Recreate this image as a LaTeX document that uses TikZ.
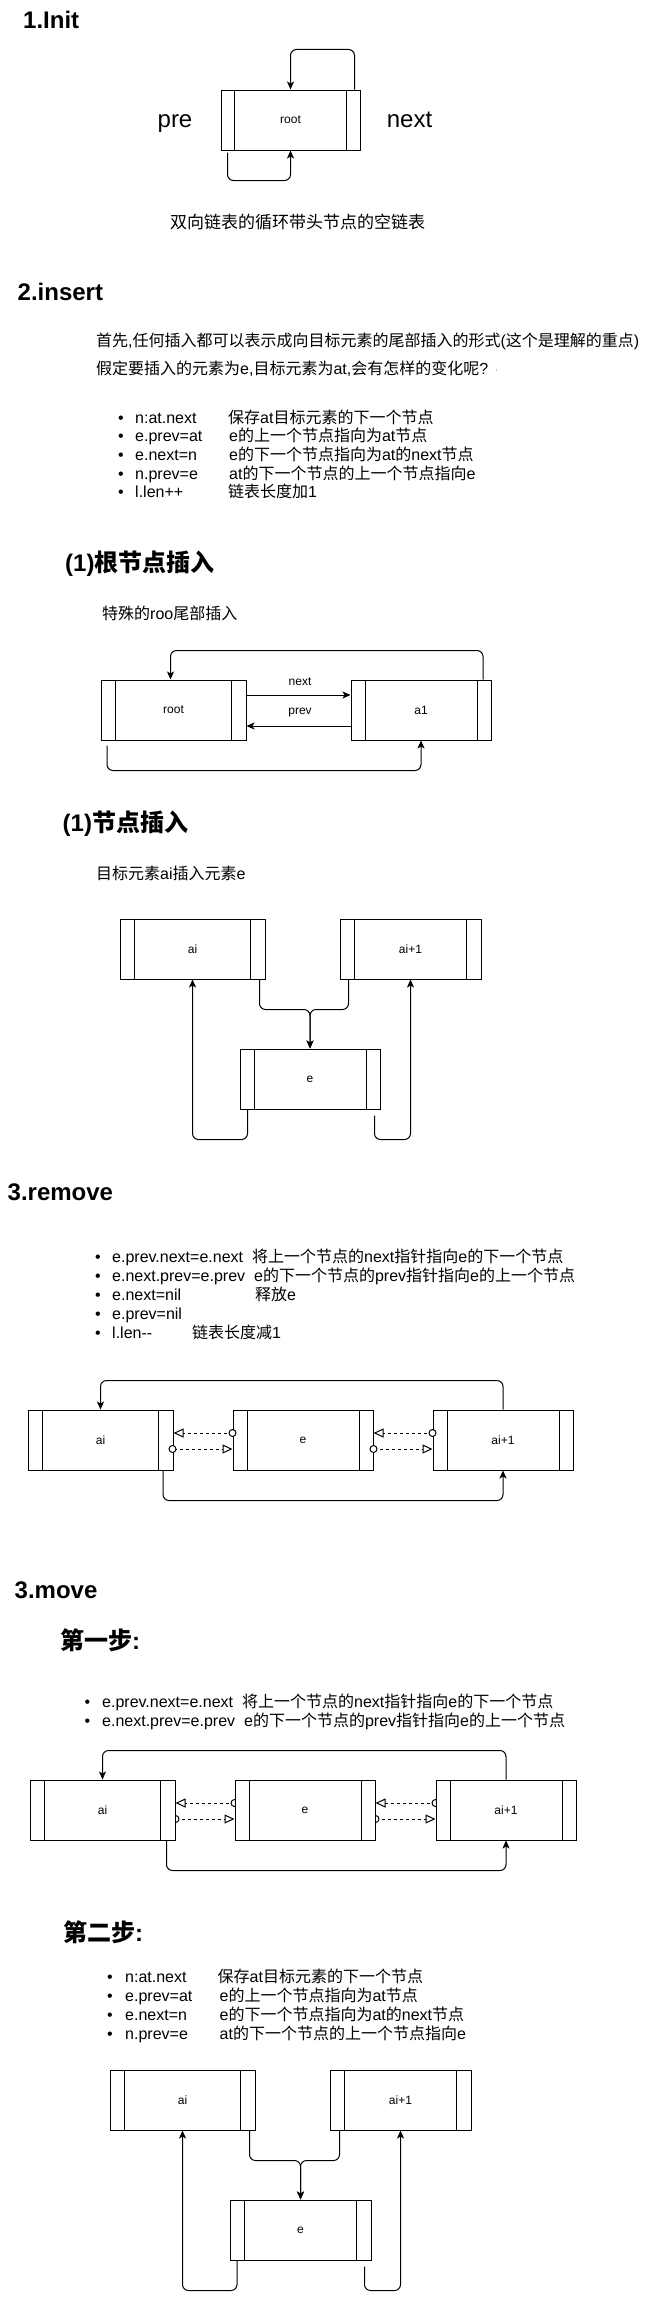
\documentclass[tikz,border=0pt]{standalone}
\usepackage{fontspec}
\setmainfont{Liberation Sans}
\newfontfamily\cjk{Noto Sans CJK SC}
\usetikzlibrary{arrows.meta,calc}
\newcommand\zh[1]{{\cjk #1}}
\pgfdeclarelayer{bg}
\pgfsetlayers{bg,main}
\tikzset{
  title/.style={anchor=base west, inner sep=0pt, font=\bfseries\fontsize{24pt}{28pt}\selectfont},
  txt/.style={anchor=base west, inner sep=0pt, font=\fontsize{16pt}{19pt}\selectfont},
  bul/.style={anchor=base, inner sep=0pt, font=\fontsize{16pt}{19pt}\selectfont},
  big/.style={anchor=base, inner sep=0pt, font=\fontsize{24pt}{28pt}\selectfont},
  lbl/.style={anchor=base, inner sep=0pt, font=\fontsize{12pt}{14pt}\selectfont},
  listbox/.style={draw, line width=1pt, fill=white, minimum width=#1, minimum height=60pt,
    inner sep=0pt, font=\fontsize{12pt}{14pt}\selectfont,
    path picture={
      \draw[line width=1pt] ($(path picture bounding box.north west)!0.1!(path picture bounding box.north east)$)
        -- ($(path picture bounding box.south west)!0.1!(path picture bounding box.south east)$);
      \draw[line width=1pt] ($(path picture bounding box.north west)!0.9!(path picture bounding box.north east)$)
        -- ($(path picture bounding box.south west)!0.9!(path picture bounding box.south east)$);
    }},
  conn/.style={draw, line width=1pt, rounded corners=6pt, -{Stealth[length=8pt,width=7pt,inset=2pt]}},
  dconn/.style={draw, line width=1pt, dash pattern=on 3pt off 3pt, -{Triangle[open,length=10pt,width=9pt]}},
  ring/.style={draw, line width=1pt, fill=white},
}
\begin{document}
\begin{tikzpicture}[x=1pt,y=-1pt]
\useasboundingbox (0,0) rectangle (653,2299);
\begin{pgfonlayer}{bg}
\fill[white] (0,0) rectangle (653,2299);
\end{pgfonlayer}

% ---------- 1.Init ----------
\node[title] (t1) at (23,29) {1.Init};
\node[listbox=139pt] (root0) at (290.5,120) {root};
\node[big] (pre) at (175,127) {pre};
\node[big] (nxt) at (409.5,127) {next};
\draw[conn] ($(root0.north east)+(-6,0)$) -- ++(0,-40) -| (root0.north);
\draw[conn] ($(root0.south west)+(7,2)$) -- ++(0,28) -| (root0.south);
\node[anchor=base west, inner sep=0pt, font=\fontsize{17pt}{20pt}\selectfont] (cap1) at (170,228) {\zh{双向链表的循环带头节点的空链表}};

% ---------- 2.insert ----------
\node[title] (t2) at (17.5,300) {2.insert};
\node[txt] (p1) at (96,346) {\zh{首先},\zh{任何插入都可以表示成向目标元素的尾部插入的形式}(\zh{这个是理解的重点})};
\node[txt] (p2) at (96,374) {\zh{假定要插入的元素为}e,\zh{目标元素为}at,\zh{会有怎样的变化呢}?};
\fill[black!45] (496.5,370) circle (0.7);

\node[bul] (d21) at (121,423) {•};
\node[txt] (k21) at (135,423) {n:at.next};
\node[txt] (v21) at (228,423) {\zh{保存}at\zh{目标元素的下一个节点}};
\node[bul] (d22) at (121,441.7) {•};
\node[txt] (k22) at (135,441.7) {e.prev=at};
\node[txt] (v22) at (229,441.7) {e\zh{的上一个节点指向为}at\zh{节点}};
\node[bul] (d23) at (121,460.4) {•};
\node[txt] (k23) at (135,460.4) {e.next=n};
\node[txt] (v23) at (229,460.4) {e\zh{的下一个节点指向为}at\zh{的}next\zh{节点}};
\node[bul] (d24) at (121,479.1) {•};
\node[txt] (k24) at (135,479.1) {n.prev=e};
\node[txt] (v24) at (229,479.1) {at\zh{的下一个节点的上一个节点指向}e};
\node[bul] (d25) at (121,497.8) {•};
\node[txt] (k25) at (135,497.8) {l.len++};
\node[txt] (v25) at (228,497.8) {\zh{链表长度加}1};

% ---------- (1) root insert ----------
\node[title] (t3) at (65,571) {(1)\zh{根节点插入}};
\node[txt] (c3) at (102,619) {\zh{特殊的}roo\zh{尾部插入}};
\node[listbox=145pt] (root1) at (173.5,710) {root};
\node[listbox=140pt] (a1) at (421,710) {a1};
\draw[conn] ($(root1.east)+(0,-15)$) -- ($(a1.west)+(0,-15)$);
\node[lbl] (lnext) at (300,685) {next};
\draw[conn] ($(a1.west)+(0,16)$) -- ($(root1.east)+(0,16)$);
\node[lbl] (lprev) at (300,714) {prev};
\draw[conn] ($(a1.north east)+(-8.5,0)$) -- ++(0,-29) -| ($(root1.north)+(-3,0)$);
\draw[conn] ($(root1.south west)+(6.5,5)$) -- ++(0,25) -| (a1.south);

% ---------- (1) node insert ----------
\node[title] (t4) at (62.5,831) {(1)\zh{节点插入}};
\node[txt] (c4) at (96,879) {\zh{目标元素}ai\zh{插入元素}e};
\node[listbox=145pt] (ai1) at (192.5,949) {ai};
\node[listbox=141pt] (aip1) at (410.5,949) {ai+1};
\node[listbox=140pt] (e1) at (310,1079) {e};
\draw[conn] ($(ai1.south east)+(-6,0)$) -- ++(0,30) -| (e1.north);
\draw[conn] ($(aip1.south west)+(9,0)$) -- ++(0,30) -| (e1.north);
\draw[conn] ($(e1.south west)+(8,0)$) -- ++(0,30) -| (ai1.south);
\draw[conn] ($(e1.south east)+(-6,6)$) -- ++(0,24) -| (aip1.south);

% ---------- 3.remove ----------
\node[title] (t5) at (7.5,1200) {3.remove};
\node[bul] (d51) at (98,1262) {•};
\node[txt] (k51) at (112,1262) {e.prev.next=e.next};
\node[txt] (v51) at (252,1262) {\zh{将上一个节点的}next\zh{指针指向}e\zh{的下一个节点}};
\node[bul] (d52) at (98,1281) {•};
\node[txt] (k52) at (112,1281) {e.next.prev=e.prev};
\node[txt] (v52) at (254,1281) {e\zh{的下一个节点的}prev\zh{指针指向}e\zh{的上一个节点}};
\node[bul] (d53) at (98,1300) {•};
\node[txt] (k53) at (112,1300) {e.next=nil};
\node[txt] (v53) at (255,1300) {\zh{释放}e};
\node[bul] (d54) at (98,1319) {•};
\node[txt] (k54) at (112,1319) {e.prev=nil};
\node[bul] (d55) at (98,1338) {•};
\node[txt] (k55) at (112,1338) {l.len{-}{-}};
\node[txt] (v55) at (192,1338) {\zh{链表长度减}1};

\node[listbox=145pt] (rai) at (100.5,1440) {ai};
\node[listbox=140pt] (re) at (303,1440) {e};
\node[listbox=140pt] (raip) at (503,1440) {ai+1};
\draw[dconn] ($(re.west)+(0,-7)$) -- ($(rai.east)+(0,-7)$);
\draw[dconn] ($(rai.east)+(0,9)$) -- ($(re.west)+(0,9)$);
\draw[dconn] ($(raip.west)+(0,-7)$) -- ($(re.east)+(0,-7)$);
\draw[dconn] ($(re.east)+(0,9)$) -- ($(raip.west)+(0,9)$);
\draw[ring] ($(re.west)+(0,-7)$) circle (3.5);
\draw[ring] ($(rai.east)+(-1,9)$) circle (3.5);
\draw[ring] ($(raip.west)+(0,-7)$) circle (3.5);
\draw[ring] ($(re.east)+(0,9)$) circle (3.5);
\draw[conn] (raip.north) -- ++(0,-29) -| (rai.north);
\draw[conn] ($(rai.south east)+(-10.5,0)$) -- ++(0,30) -| (raip.south);

% ---------- 3.move ----------
\node[title] (t6) at (14.5,1598) {3.move};
\node[title] (t7) at (60,1649) {\zh{第一步}:};
\node[bul] (d61) at (87.5,1707) {•};
\node[txt] (k61) at (102,1707) {e.prev.next=e.next};
\node[txt] (v61) at (242,1707) {\zh{将上一个节点的}next\zh{指针指向}e\zh{的下一个节点}};
\node[bul] (d62) at (87.5,1726) {•};
\node[txt] (k62) at (102,1726) {e.next.prev=e.prev};
\node[txt] (v62) at (244,1726) {e\zh{的下一个节点的}prev\zh{指针指向}e\zh{的上一个节点}};

\node[listbox=145pt] (mai) at (102.5,1810) {ai};
\node[listbox=140pt] (me) at (305,1810) {e};
\node[listbox=140pt] (maip) at (506,1810) {ai+1};
\begin{pgfonlayer}{bg}
\draw[dconn] ($(me.west)+(0,-7)$) -- ($(mai.east)+(0,-7)$);
\draw[dconn] ($(mai.east)+(0,9)$) -- ($(me.west)+(0,9)$);
\draw[dconn] ($(maip.west)+(0,-7)$) -- ($(me.east)+(0,-7)$);
\draw[dconn] ($(me.east)+(0,9)$) -- ($(maip.west)+(0,9)$);
\draw[ring] ($(me.west)+(0,-7)$) circle (3.5);
\draw[ring] ($(mai.east)+(0,9)$) circle (3.5);
\draw[ring] ($(maip.west)+(0,-7)$) circle (3.5);
\draw[ring] ($(me.east)+(0,9)$) circle (3.5);
\end{pgfonlayer}
\draw[conn] (maip.north) -- ++(0,-29) -| (mai.north);
\draw[conn] ($(mai.south east)+(-9,0)$) -- ++(0,30) -| (maip.south);

% ---------- step 2 ----------
\node[title] (t8) at (63,1941) {\zh{第二步}:};
\node[bul] (d81) at (110,1982) {•};
\node[txt] (k81) at (125,1982) {n:at.next};
\node[txt] (v81) at (217.5,1982) {\zh{保存}at\zh{目标元素的下一个节点}};
\node[bul] (d82) at (110,2001) {•};
\node[txt] (k82) at (125,2001) {e.prev=at};
\node[txt] (v82) at (219.5,2001) {e\zh{的上一个节点指向为}at\zh{节点}};
\node[bul] (d83) at (110,2020) {•};
\node[txt] (k83) at (125,2020) {e.next=n};
\node[txt] (v83) at (219.5,2020) {e\zh{的下一个节点指向为}at\zh{的}next\zh{节点}};
\node[bul] (d84) at (110,2039) {•};
\node[txt] (k84) at (125,2039) {n.prev=e};
\node[txt] (v84) at (219.5,2039) {at\zh{的下一个节点的上一个节点指向}e};

\node[listbox=145pt] (sai) at (182.5,2100) {ai};
\node[listbox=141pt] (saip) at (400.5,2100) {ai+1};
\node[listbox=141pt] (se) at (300.5,2230) {e};
\draw[conn] ($(sai.south east)+(-6,0)$) -- ++(0,30) -| (se.north);
\draw[conn] ($(saip.south west)+(10,0)$) -- ++(0,30) -| (se.north);
\draw[conn] ($(se.south west)+(7.5,0)$) -- ++(0,30) -| (sai.south);
\draw[conn] ($(se.south east)+(-7,6)$) -- ++(0,24) -| (saip.south);
\end{tikzpicture}
\end{document}
